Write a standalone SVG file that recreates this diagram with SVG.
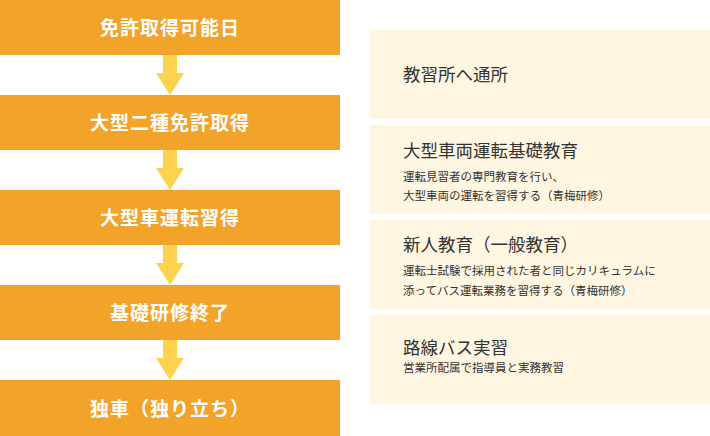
<svg xmlns="http://www.w3.org/2000/svg" width="710" height="436" viewBox="0 0 710 436">
<style>
.step{fill:#F2A42A}
.stxt{font-family:"Noto Sans CJK JP","Noto Sans",sans-serif;font-size:19px;font-weight:bold;fill:#fff;text-anchor:middle;letter-spacing:1px}
.arr{fill:#FDD24C}
.card{fill:#FFF6E1}
.ctitle{font-family:"Noto Sans CJK JP","Noto Sans",sans-serif;font-size:17.5px;fill:#333}
.csub{font-family:"Noto Sans CJK JP","Noto Sans",sans-serif;font-size:11.5px;fill:#333}
</style>
<rect width="710" height="436" fill="#fff"/>
<g id="connectors">
<polygon class="arr" points="163,55 177,55 177,73 184,73 170,95 156,73 163,73"/>
<polygon class="arr" points="163,150 177,150 177,168 184,168 170,190 156,168 163,168"/>
<polygon class="arr" points="163,245 177,245 177,263 184,263 170,285 156,263 163,263"/>
<polygon class="arr" points="163,340 177,340 177,358 184,358 170,380 156,358 163,358"/>
</g>
<g id="step1"><rect class="step" x="0" y="0" width="340" height="55"/><text class="stxt" x="170" y="35">免許取得可能日</text></g>
<g id="step2"><rect class="step" x="0" y="95" width="340" height="55"/><text class="stxt" x="170" y="130">大型二種免許取得</text></g>
<g id="step3"><rect class="step" x="0" y="190" width="340" height="55"/><text class="stxt" x="170" y="225">大型車運転習得</text></g>
<g id="step4"><rect class="step" x="0" y="285" width="340" height="55"/><text class="stxt" x="170" y="320">基礎研修終了</text></g>
<g id="step5"><rect class="step" x="0" y="380" width="340" height="56"/><text class="stxt" x="170" y="416">独車（独り立ち）</text></g>
<g id="card1"><rect class="card" x="370" y="30" width="340" height="89"/><text class="ctitle" x="403" y="81">教習所へ通所</text></g>
<g id="card2"><rect class="card" x="370" y="125" width="340" height="89"/><text class="ctitle" x="403" y="157">大型車両運転基礎教育</text><text class="csub" x="403" y="181">運転見習者の専門教育を行い、</text><text class="csub" x="403" y="200">大型車両の運転を習得する（青梅研修）</text></g>
<g id="card3"><rect class="card" x="370" y="220" width="340" height="89"/><text class="ctitle" x="403" y="251">新人教育（一般教育）</text><text class="csub" x="403" y="275">運転士試験で採用された者と同じカリキュラムに</text><text class="csub" x="403" y="294.5">添ってバス運転業務を習得する（青梅研修）</text></g>
<g id="card4"><rect class="card" x="370" y="315" width="340" height="89"/><text class="ctitle" x="403" y="354">路線バス実習</text><text class="csub" x="403" y="371.5">営業所配属で指導員と実務教習</text></g>
</svg>
